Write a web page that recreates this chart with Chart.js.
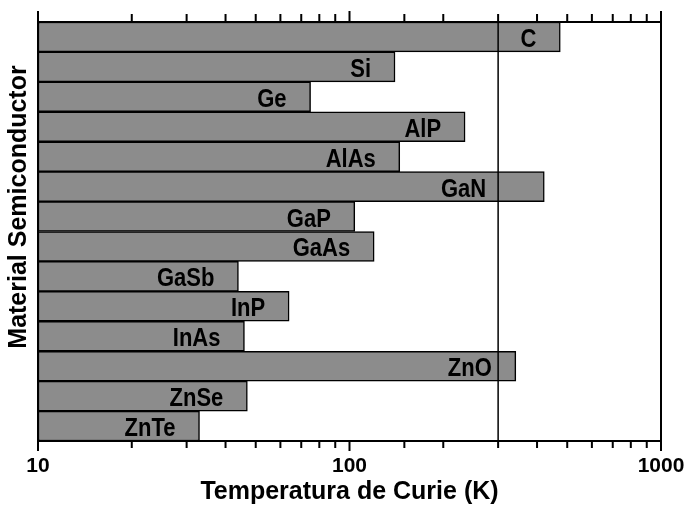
<!DOCTYPE html>
<html>
<head>
<meta charset="utf-8">
<script src="https://cdn.jsdelivr.net/npm/chart.js@4.4.1/dist/chart.umd.min.js"></script>
<style>
  body { margin: 0; background: #fff; }
</style>
</head>
<body>
<canvas id="curieChart" width="691" height="509"></canvas>
<script>
  // data
  var materials = ["C", "Si", "Ge", "AlP", "AlAs", "GaN", "GaP", "GaAs", "GaSb", "InP", "InAs", "ZnO", "ZnSe", "ZnTe"];
  var curieTemps = [475, 140, 75, 235, 145, 422, 104, 120, 44, 64, 46, 342, 47, 33];
  var roomTemp = 300;
  var xMin = 10, xMax = 1000;
  var yTitle = 'Material Semiconductor';

  function isDecade(v) {
    var l = Math.log10(v);
    return Math.abs(l - Math.round(l)) < 1e-9;
  }

  // frame, 300 K line, tick marks, y title and the labels inside the bars
  var framePlugin = {
    id: 'frame',
    afterDatasetsDraw: function(chart) {
      var ctx = chart.ctx, a = chart.chartArea, x = chart.scales.x;
      ctx.save();
      ctx.strokeStyle = '#000';

      var xl = x.getPixelForValue(roomTemp);
      ctx.lineWidth = 1.5;
      ctx.beginPath();
      ctx.moveTo(xl, a.top);
      ctx.lineTo(xl, a.bottom);
      ctx.stroke();

      ctx.font = 'bold 22px "Liberation Sans", Arial, sans-serif';
      ctx.fillStyle = '#000';
      ctx.textAlign = 'right';
      ctx.textBaseline = 'middle';
      var sy = 1.15;
      var meta = chart.getDatasetMeta(0);
      meta.data.forEach(function(bar, i) {
        var txt = materials[i];
        var w = ctx.measureText(txt).width;
        var right = bar.x - 24;
        if (right - w < xl + 4 && right > xl - 4) right = xl - 12;
        ctx.save();
        ctx.translate(right, bar.y + 3);
        ctx.scale(1, sy);
        ctx.fillText(txt, 0, 0);
        ctx.restore();
      });

      ctx.lineWidth = 2;
      ctx.strokeRect(a.left, a.top, a.right - a.left, a.bottom - a.top);

      x.ticks.forEach(function(t) {
        var px = x.getPixelForValue(t.value);
        var major = isDecade(t.value);
        ctx.beginPath();
        ctx.moveTo(px, a.top);
        ctx.lineTo(px, a.top - (major ? 11 : 8));
        ctx.moveTo(px, a.bottom);
        ctx.lineTo(px, a.bottom + (major ? 10 : 7));
        ctx.stroke();
      });

      // y title sits a bit above the middle in the original
      ctx.font = 'bold 25px "Liberation Sans", Arial, sans-serif';
      ctx.textAlign = 'center';
      ctx.translate(19, 207);
      ctx.rotate(-Math.PI / 2);
      ctx.fillText(yTitle, 0, 0);
      ctx.restore();
    }
  };

  Chart.defaults.font.family = '"Liberation Sans", Arial, sans-serif';
  Chart.defaults.color = '#000';

  var ctx = document.getElementById("curieChart").getContext('2d');
  var myChart = new Chart(ctx, {
    type: 'bar',
    data: {
      labels: materials,
      datasets: [{
        label: 'Tc',
        data: curieTemps,
        backgroundColor: "#8c8c8c",
        borderColor: "#000",
        borderWidth: 1.5,
        borderSkipped: false,
        barPercentage: 1,
        categoryPercentage: 1
      }]
    },
    options: {
      responsive: false,
      animation: false,
      indexAxis: 'y',
      layout: { padding: { top: 22, right: 30, left: 0, bottom: 0 } },
      plugins: { legend: { display: false }, tooltip: { enabled: false } },
      scales: {
        x: {
          type: 'logarithmic',
          min: xMin,
          max: xMax,
          grid: { display: false },
          border: { display: false },
          afterFit: function(s) { s.height = 68; },
          ticks: {
            autoSkip: false,
            maxRotation: 0,
            padding: 5,
            font: { size: 21, weight: 'bold' },
            callback: function(v) { return isDecade(v) ? String(v) : ''; }
          },
          title: {
            display: true,
            text: 'Temperatura de Curie (K)',
            font: { size: 25, weight: 'bold' },
            padding: { top: 0, bottom: 2 }
          }
        },
        y: {
          grid: { display: false },
          border: { display: false },
          ticks: { display: false },
          afterFit: function(s) { s.width = 38; }
        }
      }
    },
    plugins: [framePlugin]
  });
</script>
</body>
</html>
